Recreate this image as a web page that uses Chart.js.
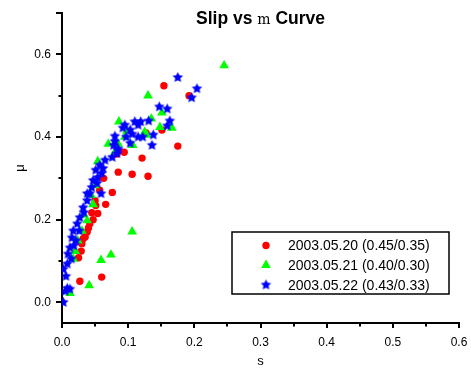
<!DOCTYPE html>
<html>
<head>
<meta charset="utf-8">
<script src="https://cdn.jsdelivr.net/npm/chart.js@4.4.0/dist/chart.umd.min.js"></script>
<style>
  html, body { margin: 0; padding: 0; background: #fff; }
  canvas { display: block; }
</style>
</head>
<body>
<canvas id="slipCanvas" width="471" height="369"></canvas>
<script>
const seriesLabels = ['2003.05.20 (0.45/0.35)', '2003.05.21 (0.40/0.30)', '2003.05.22 (0.43/0.33)'];

// slip s / friction coefficient mu, one pair of arrays per test day
const s0520 = [0.025, 0.027, 0.029, 0.030, 0.032, 0.035, 0.038, 0.040, 0.042, 0.045, 0.047, 0.050, 0.051, 0.054, 0.057,
  0.060, 0.063, 0.066, 0.076, 0.083, 0.085, 0.094, 0.106, 0.121, 0.127, 0.130, 0.151, 0.154, 0.175, 0.192];
const mu0520 = [0.108, 0.051, 0.124, 0.142, 0.154, 0.158, 0.170, 0.180, 0.190, 0.217, 0.200, 0.246, 0.234, 0.215, 0.271,
  0.061, 0.300, 0.237, 0.266, 0.359, 0.315, 0.363, 0.310, 0.349, 0.410, 0.305, 0.417, 0.524, 0.378, 0.500];

const s0521 = [0.012, 0.017, 0.020, 0.024, 0.030, 0.033, 0.038, 0.041, 0.044, 0.047, 0.050, 0.054, 0.059, 0.070, 0.074,
  0.080, 0.085, 0.086, 0.095, 0.098, 0.106, 0.107, 0.125, 0.128, 0.130, 0.135, 0.148, 0.151, 0.166, 0.245];
const mu0521 = [0.022, 0.105, 0.124, 0.149, 0.173, 0.212, 0.198, 0.041, 0.259, 0.237, 0.283, 0.341, 0.102, 0.383, 0.115,
  0.363, 0.383, 0.437, 0.400, 0.415, 0.171, 0.380, 0.412, 0.405, 0.500, 0.444, 0.424, 0.459, 0.422, 0.573];

const s0522 = [0.002, 0.002, 0.005, 0.006, 0.008, 0.008, 0.009, 0.012, 0.012, 0.014, 0.015, 0.017, 0.018, 0.021, 0.023,
  0.026, 0.027, 0.032, 0.033, 0.038, 0.038, 0.042, 0.045, 0.047, 0.051, 0.053, 0.054, 0.057, 0.059, 0.060,
  0.062, 0.065, 0.076, 0.078, 0.080, 0.080, 0.083, 0.084, 0.085, 0.092, 0.095, 0.097, 0.103, 0.103, 0.106,
  0.110, 0.115, 0.115, 0.119, 0.122, 0.131, 0.136, 0.138, 0.147, 0.159, 0.159, 0.163, 0.175, 0.196, 0.204];
const mu0522 = [0.000, 0.080, 0.027, 0.063, 0.034, 0.093, 0.117, 0.032, 0.132, 0.105, 0.156, 0.173, 0.137, 0.149, 0.190,
  0.173, 0.205, 0.229, 0.217, 0.246, 0.263, 0.263, 0.278, 0.295, 0.320, 0.288, 0.302, 0.332, 0.263, 0.312,
  0.324, 0.344, 0.351, 0.380, 0.389, 0.402, 0.360, 0.368, 0.371, 0.422, 0.429, 0.400, 0.385, 0.417, 0.407,
  0.437, 0.400, 0.429, 0.437, 0.400, 0.439, 0.380, 0.405, 0.473, 0.427, 0.468, 0.439, 0.544, 0.495, 0.517];

const xTickValues = [0, 0.1, 0.2, 0.3, 0.4, 0.5, 0.6];
const xTickLabels = ['0.0', '0.1', '0.2', '0.3', '0.4', '0.5', '0.6'];
const xMinorValues = [0.05, 0.15, 0.25, 0.35, 0.45, 0.55];
const yTickValues = [0, 0.2, 0.4, 0.6, 0.7];
const yTickLabels = ['0.0', '0.2', '0.4', '0.6', ''];
const yMinorValues = [0.1, 0.3, 0.5];

const FONT = '"Liberation Sans", Arial, sans-serif';

// filled five point star, chart.js 'star' is only stroked
function makeStar(color, r) {
  const size = Math.ceil(r * 2 + 2);
  const c = document.createElement('canvas');
  c.width = size; c.height = size;
  const g = c.getContext('2d');
  g.fillStyle = color;
  g.beginPath();
  for (let i = 0; i < 10; i++) {
    const rr = i % 2 === 0 ? r : r * 0.5;
    const a = -Math.PI / 2 + i * Math.PI / 5;
    g.lineTo(size / 2 + rr * Math.cos(a), size / 2 + rr * Math.sin(a));
  }
  g.closePath();
  g.fill();
  return c;
}

const toPoints = (xs, ys) => xs.map((x, i) => ({ x: x, y: ys[i] }));
const starImg = makeStar('#0000ff', 5.5);

// minor ticks, title with the mixed font and the boxed legend
const overlayPlugin = {
  id: 'overlay',
  afterDraw(chart) {
    const { ctx, chartArea, scales: { x, y } } = chart;
    ctx.save();
    ctx.strokeStyle = '#000';
    ctx.lineWidth = 2;
    ctx.beginPath();
    xMinorValues.forEach(v => {
      const px = Math.round(x.getPixelForValue(v));
      ctx.moveTo(px, chartArea.bottom);
      ctx.lineTo(px, chartArea.bottom + 3.5);
    });
    yMinorValues.forEach(v => {
      const py = Math.round(y.getPixelForValue(v));
      ctx.moveTo(chartArea.left, py);
      ctx.lineTo(chartArea.left - 3.5, py);
    });
    ctx.stroke();

    // title: "Slip vs " + m + " Curve"
    const parts = [
      { text: 'Slip vs ', font: 'bold 17.5px ' + FONT },
      { text: 'm', font: '14px "DejaVu Serif", serif' },
      { text: ' Curve', font: 'bold 17.5px ' + FONT }
    ];
    let total = 0;
    parts.forEach(p => { ctx.font = p.font; p.w = ctx.measureText(p.text).width; total += p.w; });
    let tx = (chartArea.left + chartArea.right) / 2 - total / 2;
    ctx.fillStyle = '#000';
    ctx.textBaseline = 'alphabetic';
    ctx.textAlign = 'left';
    parts.forEach(p => { ctx.font = p.font; ctx.fillText(p.text, tx, 24); tx += p.w; });

    // legend
    const box = { left: 232, top: 232, width: 217, height: 62 };
    ctx.lineWidth = 1.5;
    ctx.strokeRect(box.left, box.top, box.width, box.height);
    ctx.font = '14px ' + FONT;
    ctx.textBaseline = 'middle';
    chart.data.datasets.forEach((ds, i) => {
      const cy = box.top + 13.5 + i * 19.7;
      ctx.fillStyle = ds.backgroundColor;
      ctx.strokeStyle = ds.backgroundColor;
      Chart.helpers.drawPoint(ctx, { pointStyle: ds.pointStyle, radius: ds.pointRadius, rotation: 0, borderWidth: 0 }, box.left + 34, cy);
      ctx.fillStyle = '#000';
      ctx.fillText(ds.label, box.left + 56, cy + 1);
    });
    ctx.restore();
  }
};

const axisFont = { family: FONT, size: 12 };

new Chart(document.getElementById('slipCanvas').getContext('2d'), {
  type: 'scatter',
  data: {
    datasets: [{
      label: seriesLabels[0],
      data: toPoints(s0520, mu0520),
      pointStyle: 'circle',
      pointRadius: 3.7,
      backgroundColor: '#ff0000',
      borderColor: '#ff0000',
      borderWidth: 0,
      order: 3
    }, {
      label: seriesLabels[1],
      data: toPoints(s0521, mu0521),
      pointStyle: 'triangle',
      pointRadius: 5.6,
      backgroundColor: '#00ff00',
      borderColor: '#00ff00',
      borderWidth: 0,
      order: 2
    }, {
      label: seriesLabels[2],
      data: toPoints(s0522, mu0522),
      pointStyle: starImg,
      pointRadius: 5.5,
      backgroundColor: '#0000ff',
      borderColor: '#0000ff',
      borderWidth: 0,
      order: 1
    }]
  },
  plugins: [overlayPlugin],
  options: {
    responsive: false,
    animation: false,
    devicePixelRatio: 1,
    layout: { padding: { left: 0, top: 13, right: 12, bottom: 0 } },
    plugins: {
      legend: { display: false },
      title: { display: false },
      tooltip: { enabled: false }
    },
    scales: {
      x: {
        type: 'linear',
        min: 0,
        max: 0.6,
        afterBuildTicks: scale => { scale.ticks = xTickValues.map(v => ({ value: v })); },
        afterFit: scale => {
          scale.height = 46;
          // the "0.6" label may overhang into the right margin
          scale.paddingLeft = 0;
          scale.paddingRight = 0;
        },
        ticks: {
          callback: (v, i) => xTickLabels[i],
          font: axisFont,
          color: '#000',
          padding: 7,
          maxRotation: 0,
          autoSkip: false
        },
        grid: { drawOnChartArea: false, drawTicks: true, tickLength: 5, color: '#000', lineWidth: 2 },
        border: { display: true, color: '#000', width: 2 },
        title: { display: true, text: 's', font: { family: FONT, size: 13 }, color: '#000', padding: 0 }
      },
      y: {
        type: 'linear',
        min: -0.05,
        max: 0.7,
        afterBuildTicks: scale => { scale.ticks = yTickValues.map(v => ({ value: v })); },
        afterFit: scale => { scale.width = 62; },
        ticks: {
          callback: (v, i) => yTickLabels[i],
          font: axisFont,
          color: '#000',
          padding: 5,
          autoSkip: false
        },
        grid: { drawOnChartArea: false, drawTicks: true, tickLength: 6, color: '#000', lineWidth: 2 },
        border: { display: true, color: '#000', width: 2 },
        title: { display: true, text: 'μ', font: { family: FONT, size: 13 }, color: '#000', padding: { top: 13 } }
      }
    }
  }
});
</script>
</body>
</html>
